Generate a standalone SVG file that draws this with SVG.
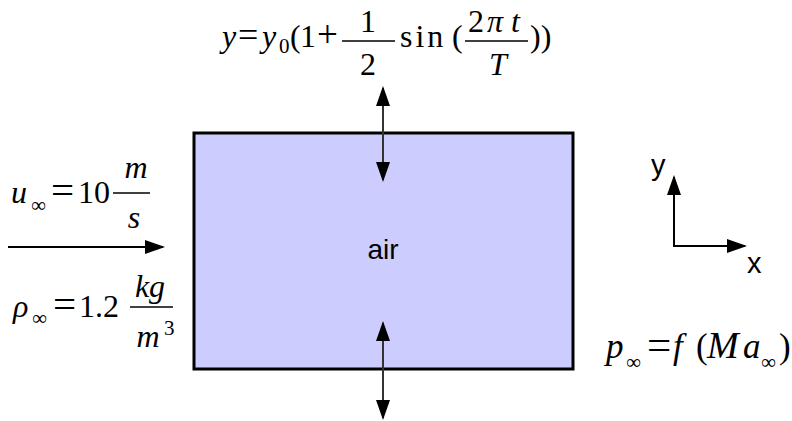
<svg xmlns="http://www.w3.org/2000/svg" width="792" height="421" viewBox="0 0 792 421">
<style>
.m{font-family:"Liberation Serif","Times New Roman",serif;font-size:32px;fill:#000}
.i{font-style:italic}
.s{font-size:21px}
.e{font-size:41px}
.l{font-family:"Liberation Sans",Arial,sans-serif;font-size:29px;fill:#000}
.bar{stroke:#000;stroke-width:1.6}
.arr{stroke:#333;stroke-width:2;fill:none}
.ax{stroke:#000;stroke-width:2;fill:none}
</style>
<defs>
<marker id="ah" markerUnits="userSpaceOnUse" markerWidth="20" markerHeight="14" refX="18" refY="7" orient="auto-start-reverse" viewBox="0 0 20 14">
<path d="M0,0 L20,7 L0,14 z" fill="#000"/>
</marker>
</defs>
<rect width="792" height="421" fill="#fff"/>
<g id="box">
<rect x="194" y="133" width="379" height="236" fill="#ccccff" stroke="#000" stroke-width="3"/>
<text class="l" x="383" y="259" text-anchor="middle" style="font-size:28px">air</text>
</g>
<g id="connectors">
<line class="arr" x1="383" y1="88" x2="383" y2="180" marker-start="url(#ah)" marker-end="url(#ah)"/>
<line class="arr" x1="383" y1="323" x2="383" y2="418" marker-start="url(#ah)" marker-end="url(#ah)"/>
<line class="ax" x1="8" y1="247" x2="163" y2="247" marker-end="url(#ah)"/>
</g>
<g id="axes">
<line class="ax" x1="674" y1="247" x2="674" y2="177" marker-end="url(#ah)"/>
<line class="ax" x1="673" y1="246" x2="745" y2="246" marker-end="url(#ah)"/>
<text class="l" x="651" y="175">y</text>
<text class="l" x="747" y="273">x</text>
</g>
<g id="formula-top">
<text class="m i" x="222" y="47">y</text>
<text class="m" x="238" y="47" style="font-size:36px">=</text>
<text class="m i" x="262" y="47">y</text>
<text class="m s" x="279" y="53">0</text>
<text class="m" x="290" y="47">(</text>
<text class="m" x="300" y="47">1</text>
<text class="m" x="317" y="47" style="font-size:37px">+</text>
<line class="bar" x1="342" y1="41" x2="395" y2="41"/>
<text class="m" x="368" y="32" text-anchor="middle">1</text>
<text class="m" x="368" y="75" text-anchor="middle">2</text>
<text class="m" x="400" y="47" letter-spacing="3">sin</text>
<text class="m" x="452" y="47">(</text>
<line class="bar" x1="465" y1="41" x2="528" y2="41"/>
<text class="m" x="468" y="32">2</text>
<text class="m i" x="487" y="32">π</text>
<text class="m i" x="511" y="32">t</text>
<text class="m i" x="498" y="75" text-anchor="middle">T</text>
<text class="m" x="530" y="47">))</text>
</g>
<g id="formula-u">
<text class="m i" x="11" y="203">u</text>
<text class="m s" x="31" y="212">∞</text>
<text class="m e" x="51" y="204">=</text>
<text class="m" x="78" y="203">10</text>
<line class="bar" x1="113" y1="193" x2="150" y2="193"/>
<text class="m i" x="136" y="178" text-anchor="middle">m</text>
<text class="m i" x="134" y="228" text-anchor="middle">s</text>
</g>
<g id="formula-rho">
<text class="m i" x="13" y="317">ρ</text>
<text class="m s" x="32" y="325">∞</text>
<text class="m e" x="53" y="318">=</text>
<text class="m" x="79" y="317">1.2</text>
<line class="bar" x1="130" y1="307" x2="173" y2="307"/>
<text class="m i" x="150" y="297" text-anchor="middle">kg</text>
<text class="m i" x="148" y="347" text-anchor="middle">m</text>
<text class="m s" x="164" y="335">3</text>
</g>
<g id="formula-p">
<text class="m i" x="606" y="358" style="font-size:35px">p</text>
<text class="m s" x="626" y="369">∞</text>
<text class="m e" x="647" y="359" style="font-size:43px">=</text>
<text class="m i" x="673" y="358" style="font-size:35px">f</text>
<text class="m" x="696" y="358" style="font-size:35px">(</text>
<text class="m i" x="707" y="358" style="font-size:38px">M</text>
<text class="m i" x="743" y="358" style="font-size:35px">a</text>
<text class="m s" x="761" y="369">∞</text>
<text class="m" x="779" y="358" style="font-size:35px">)</text>
</g>
</svg>
